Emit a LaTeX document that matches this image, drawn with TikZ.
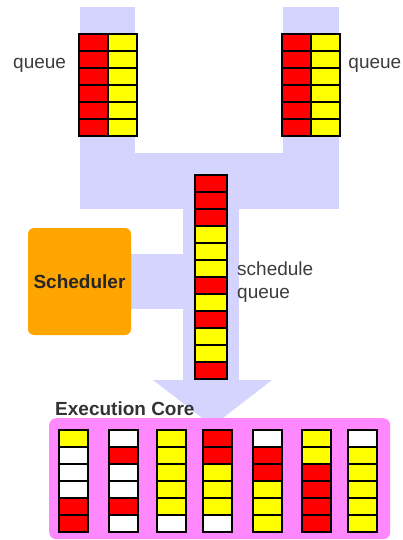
\documentclass[tikz,border=0pt]{standalone}
\usepackage{fontspec}
\setmainfont{Liberation Sans}
\definecolor{lav}{RGB}{212,212,255}
\definecolor{cR}{RGB}{255,0,0}
\definecolor{cY}{RGB}{255,255,0}
\definecolor{cW}{RGB}{255,255,255}
\definecolor{orng}{RGB}{255,165,0}
\definecolor{mag}{RGB}{255,136,255}
\definecolor{txtgray}{RGB}{60,60,60}
\begin{document}
\begin{tikzpicture}[x=1pt,y=-1pt,
  cell/.style={draw=black, line width=1.2pt, minimum width=29pt, minimum height=17pt, inner sep=0pt, outer sep=0pt, anchor=north west},
  scell/.style={cell, minimum width=32pt},
  lbl/.style={inner sep=0pt, font=\fontsize{19}{24}\selectfont, text=txtgray},
  bold lbl/.style={inner sep=0pt, font=\fontsize{19}{24}\selectfont\bfseries}]
\useasboundingbox (0,0) rectangle (402,540);
% lavender flow
\fill[lav] (80,7) rectangle (135,209);
\fill[lav] (283,7) rectangle (339,209);
\fill[lav] (80,153) rectangle (339,209);
\fill[lav] (183,208) rectangle (239,381);
\fill[lav] (130,254) rectangle (184,309);
\fill[lav] (153,380) -- (272,380) -- (212.5,426) -- cycle;
% scheduler
\node[fill=orng, rounded corners=6pt, minimum width=103pt, minimum height=107pt, inner sep=0pt, bold lbl, text=black!85] (sched) at (79.5,281.5) {Scheduler};
% execution core
\node[fill=mag, rounded corners=7pt, minimum width=341pt, minimum height=121pt, inner sep=0pt, anchor=north west] (core) at (49,418) {};
\node[bold lbl, text=black!80, anchor=base west] (corelbl) at (55,415) {Execution Core};
% input queues
\foreach \r in {0,...,5} {
  \node[cell, fill=cR] (lqa\r) at (79,{34+17*\r}) {};
  \node[cell, fill=cY] (lqb\r) at (108,{34+17*\r}) {};
  \node[cell, fill=cR] (rqa\r) at (282,{34+17*\r}) {};
  \node[cell, fill=cY] (rqb\r) at (311,{34+17*\r}) {};
}
\node[lbl, anchor=base west] (ql) at (13,69) {queue};
\node[lbl, anchor=base east] (qr) at (401.5,69) {queue};
% schedule queue
\foreach \c [count=\r from 0] in {R,R,R,Y,Y,Y,R,Y,R,Y,Y,R} {
  \node[scell, fill=c\c] (sq\r) at (195,{175+17*\r}) {};
}
\node[lbl, anchor=base west, align=left] (sql) at (237,275) {schedule};
\node[lbl, anchor=base west] (sql2) at (237,298) {queue};
% execution columns
\foreach \x/\cols [count=\k] in {59/{Y,W,W,W,R,R},109/{W,R,W,W,R,W},157/{Y,Y,Y,Y,Y,W},203/{R,R,Y,Y,Y,W},253/{W,R,R,Y,Y,Y},302/{Y,Y,R,R,R,R},348/{W,Y,Y,Y,Y,Y}} {
  \foreach \c [count=\r from 0] in \cols {
    \node[cell, fill=c\c] (e\k-\r) at (\x,{430+17*\r}) {};
  }
}
\end{tikzpicture}
\end{document}
